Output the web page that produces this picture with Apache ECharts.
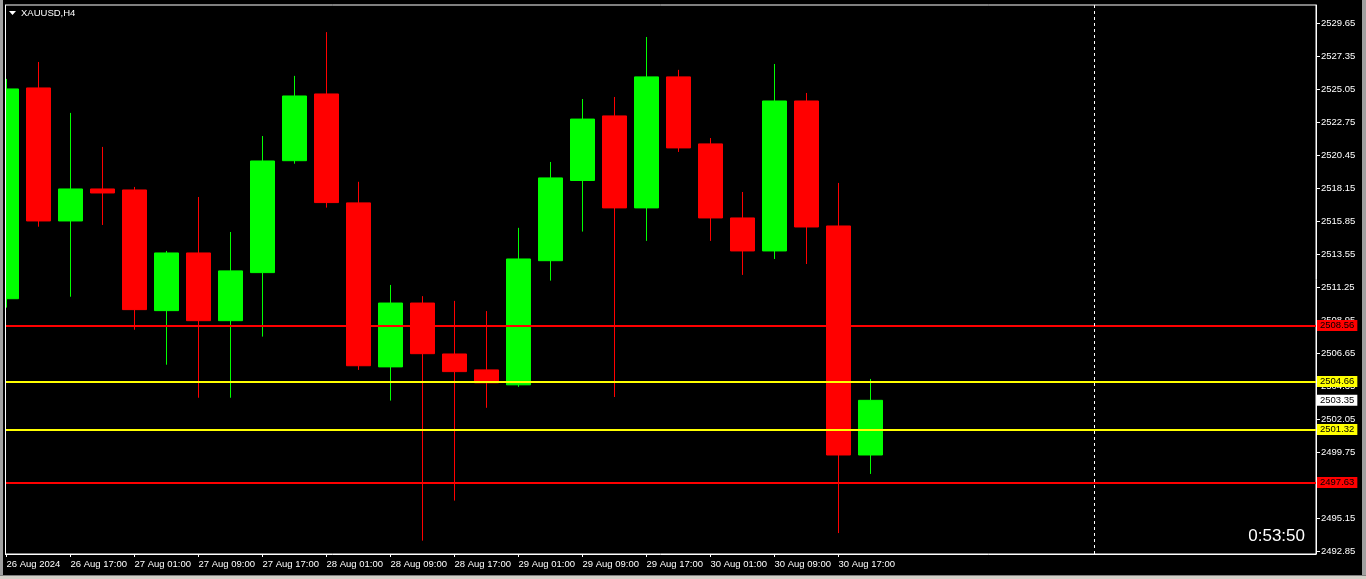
<!DOCTYPE html>
<html>
<head>
<meta charset="utf-8">
<script src="https://cdn.jsdelivr.net/npm/echarts@6/dist/echarts.min.js"></script>
<style>
html,body{margin:0;padding:0;background:#000;}
#c{width:1366px;height:579px;}
</style>
</head>
<body>
<div id="c"></div>
<script>
// ---- data (XAUUSD H4) ----
const opens  = [2510.43, 2525.12, 2515.85, 2518.08, 2518.01, 2509.60, 2513.62, 2508.90, 2512.25, 2520.05, 2524.70, 2517.11, 2505.68, 2510.13, 2506.58, 2505.47, 2504.43, 2513.08, 2518.67, 2523.17, 2516.76, 2525.89, 2521.22, 2516.06, 2513.76, 2524.21, 2515.50, 2499.54];
const closes = [2525.05, 2515.85, 2518.08, 2517.80, 2509.67, 2513.62, 2508.90, 2512.37, 2520.03, 2524.56, 2517.13, 2505.76, 2510.13, 2506.60, 2505.35, 2504.57, 2513.20, 2518.85, 2522.95, 2516.76, 2525.89, 2520.94, 2516.06, 2513.76, 2524.21, 2515.43, 2499.54, 2503.35];
const highs  = [2525.75, 2526.93, 2523.38, 2521.01, 2518.22, 2513.76, 2517.52, 2515.08, 2521.77, 2525.96, 2529.01, 2518.58, 2511.39, 2510.61, 2510.28, 2509.57, 2515.37, 2519.96, 2524.35, 2524.49, 2528.67, 2526.38, 2521.63, 2517.87, 2526.79, 2524.77, 2518.50, 2504.84];
const lows   = [2509.81, 2515.45, 2510.57, 2515.57, 2508.27, 2505.83, 2503.53, 2503.53, 2507.79, 2519.84, 2516.78, 2505.47, 2503.33, 2493.57, 2496.36, 2502.83, 2504.29, 2511.69, 2515.11, 2503.58, 2514.46, 2520.66, 2514.46, 2512.09, 2513.20, 2512.85, 2494.10, 2498.22];

const timeLabels = ['26 Aug 2024', '26 Aug 17:00', '27 Aug 01:00', '27 Aug 09:00', '27 Aug 17:00', '28 Aug 01:00', '28 Aug 09:00', '28 Aug 17:00', '29 Aug 01:00', '29 Aug 09:00', '29 Aug 17:00', '30 Aug 01:00', '30 Aug 09:00', '30 Aug 17:00'];
const timeLabelBars = [0, 2, 4, 6, 8, 10, 12, 14, 16, 18, 20, 22, 24, 26];

const priceTicks = [2492.85, 2495.15, 2497.45, 2499.75, 2502.05, 2504.35, 2506.65, 2508.95, 2511.25, 2513.55, 2515.85, 2518.15, 2520.45, 2522.75, 2525.05, 2527.35, 2529.65];

const redLevels = [2508.56, 2497.63];
const yellowLevels = [2504.66, 2501.32];
const bidPrice = 2503.35;
const separatorBar = 34;

const symbolTitle = 'XAUUSD,H4';
const timerText = '0:53:50';

// ---- build ----
const candleData = opens.map((o, i) => [i, o, closes[i], lows[i], highs[i]]);
const FONT = 'Liberation Sans';

function levelLine(v, color, showLine) {
  return {
    yAxis: v,
    lineStyle: showLine ? { color: color, width: 2, type: 'solid' } : { color: 'rgba(0,0,0,0)', width: 0 },
    label: {
      show: true, position: 'end', distance: 1,
      formatter: v.toFixed(2),
      color: '#000', backgroundColor: color,
      fontFamily: FONT, fontSize: 9.5, lineHeight: 9,
      padding: [1, 3, 1, 3]
    }
  };
}

const markData = [];
redLevels.forEach(v => markData.push(levelLine(v, '#ff0000', true)));
yellowLevels.forEach(v => markData.push(levelLine(v, '#ffff00', true)));
markData.push(levelLine(bidPrice, '#ffffff', false));
markData.push({
  xAxis: separatorBar,
  lineStyle: { color: '#ffffff', width: 1, type: [3, 3] },
  label: { show: false }
});

const chart = echarts.init(document.getElementById('c'), null, { renderer: 'canvas' });
const xMin = -1.5 / 32;
const xMax = xMin + 1311 / 32;

chart.setOption({
  backgroundColor: '#000',
  animation: false,
  grid: {
    left: 5, top: 5, width: 1311, height: 549,
    show: true, borderColor: '#ffffff', borderWidth: 1, backgroundColor: '#000'
  },
  xAxis: {
    type: 'value', min: xMin, max: xMax,
    splitLine: { show: false },
    axisLine: { show: true, onZero: false, lineStyle: { color: '#ffffff', width: 1 } },
    axisTick: { show: true, length: 3, lineStyle: { color: '#ffffff' }, customValues: timeLabelBars },
    axisLabel: {
      show: true, color: '#ffffff', fontFamily: FONT, fontSize: 9.5,
      align: 'left', margin: 5,
      customValues: timeLabelBars,
      formatter: function (v) {
        const k = timeLabelBars.indexOf(Math.round(v));
        return k >= 0 ? timeLabels[k] : '';
      }
    }
  },
  yAxis: {
    type: 'value', position: 'right',
    min: 2492.64, max: 2530.90,
    scale: true,
    splitLine: { show: false },
    axisLine: { show: true, onZero: false, lineStyle: { color: '#ffffff', width: 1 } },
    axisTick: { show: true, length: 4, inside: false, lineStyle: { color: '#ffffff' }, customValues: priceTicks },
    axisLabel: {
      show: true, color: '#ffffff', fontFamily: FONT, fontSize: 9.5, margin: 5,
      customValues: priceTicks,
      formatter: v => v.toFixed(2)
    }
  },
  series: [{
    type: 'candlestick',
    data: candleData,
    encode: { x: 0, y: [1, 2, 3, 4] },
    barWidth: 24,
    clip: true,
    itemStyle: {
      color: '#00ff00', color0: '#ff0000',
      borderColor: '#00ff00', borderColor0: '#ff0000',
      borderWidth: 1
    },
    markLine: {
      silent: true,
      symbol: ['none', 'none'],
      animation: false,
      data: markData
    }
  }],
  graphic: [
    { type: 'rect', z: 100, shape: { x: 0, y: 0, width: 3, height: 579 }, style: { fill: '#a0a0a0' } },
    { type: 'rect', z: 100, shape: { x: 3, y: 0, width: 2, height: 579 }, style: { fill: '#000' } },
    { type: 'rect', z: 101, shape: { x: 5, y: 5, width: 1, height: 550 }, style: { fill: '#ffffff' } },
    { type: 'rect', z: 100, shape: { x: 1362, y: 0, width: 4, height: 579 }, style: { fill: '#a0a0a0' } },
    { type: 'rect', z: 100, shape: { x: 0, y: 575, width: 1366, height: 4 }, style: { fill: '#d4d0c8' } },
    { type: 'rect', z: 101, shape: { x: 0, y: 575, width: 1366, height: 1 }, style: { fill: '#808080' } },
    { type: 'polygon', z: 100, shape: { points: [[9, 11], [16, 11], [12.5, 15]] }, style: { fill: '#ffffff' } },
    { type: 'text', z: 100, x: 21, y: 13, style: { text: symbolTitle, fill: '#ffffff', font: '9.5px "Liberation Sans"', verticalAlign: 'middle', align: 'left' } },
    { type: 'text', z: 100, x: 1305, y: 536, style: { text: timerText, fill: '#ffffff', font: '17px "Liberation Sans"', verticalAlign: 'middle', align: 'right' } }
  ]
});
</script>
</body>
</html>
